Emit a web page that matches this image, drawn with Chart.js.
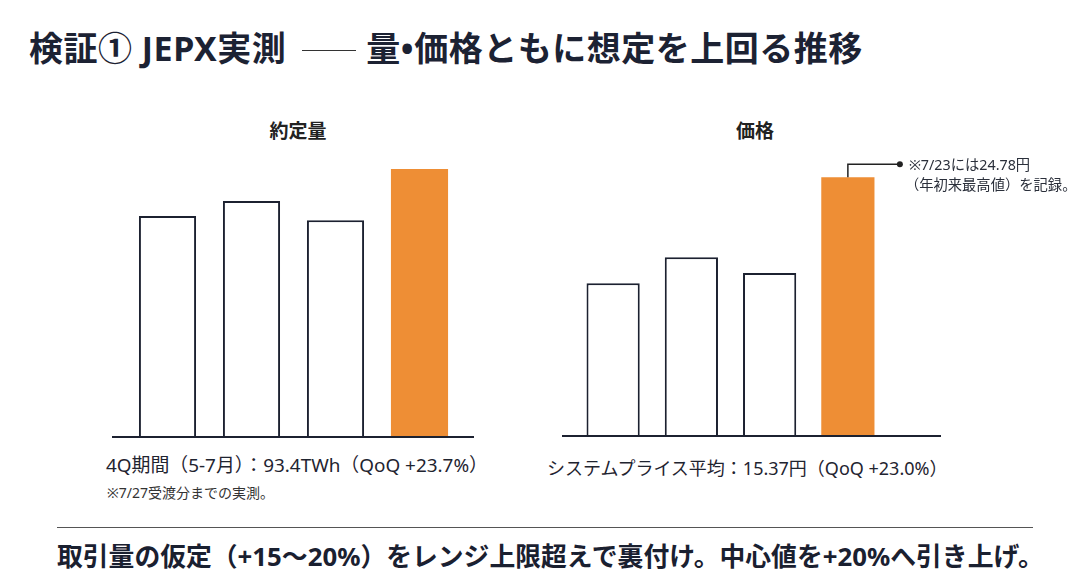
<!DOCTYPE html>
<html lang="ja">
<head>
<meta charset="utf-8">
<script src="https://cdn.jsdelivr.net/npm/chart.js@4/dist/chart.umd.min.js"></script>
<style>
  html, body { margin: 0; padding: 0; background: #fff; }
  body { width: 1090px; height: 581px; position: relative; overflow: hidden;
         font-family: "Noto Sans", "Noto Sans CJK JP", sans-serif; color: #1c2233; }
  .title { position: absolute; left: 29px; top: 26px; font-size: 34px; font-weight: 700;
           white-space: nowrap; line-height: 44px; letter-spacing: 0.5px; }
  .dash { display: inline-block; width: 54px; border-top: 1.5px solid #333; vertical-align: middle;
          margin: 0 10px 0 16px; position: relative; top: -1px; }
  .chart-title { position: absolute; font-size: 19px; font-weight: 700; transform: translateX(-50%);
                 white-space: nowrap; color: #222; }
  canvas { position: absolute; }
  .label { position: absolute; white-space: nowrap; line-height: 24px; color: #1f2430; }
  .note { position: absolute; font-size: 14px; white-space: nowrap; color: #333; }
  .rule { position: absolute; left: 57px; width: 976px; top: 527px; border-top: 1.5px solid #555; }
  .footer { position: absolute; left: 57px; top: 538px; font-size: 25.8px; font-weight: 700;
            white-space: nowrap; line-height: 36px; color: #1a2030; }
</style>
</head>
<body>
<div class="title">検証① JEPX実測<span class="dash"></span>量•価格ともに想定を上回る推移</div>

<div class="chart-title" style="left:298px; top:116px;">約定量</div>
<div class="chart-title" style="left:755px; top:116px;">価格</div>

<canvas id="volumeChart" width="390" height="310" style="left:100px; top:140px;"></canvas>
<canvas id="priceChart" width="550" height="310" style="left:540px; top:140px;"></canvas>

<div class="label" style="left:106px; top:453px; font-size:18.9px;">4Q期間（5-7月）：93.4TWh（QoQ +23.7%）</div>
<div class="note" style="left:107px; top:482px;">※7/27受渡分までの実測。</div>
<div class="label" style="left:547px; top:456px; font-size:18px;">システムプライス平均：15.37円（QoQ +23.0%）</div>

<div class="rule"></div>
<div class="footer">取引量の仮定（+15〜20%）をレンジ上限超えで裏付け。中心値を+20%へ引き上げ。</div>

<script>
// quarters (1Q..4Q), the last one is the current measured period
const quarters = ['1Q', '2Q', '3Q', '4Q'];
const volumeValues = [77.0, 82.2, 75.5, 93.4];   // TWh
const priceValues = [12.35, 13.09, 12.64, 15.37]; // 円/kWh
const priceNote = ['※7/23には24.78円', '（年初来最高値）を記録。'];

const ORANGE = '#EE8E35';
const INK = '#1c2130';

const fills = quarters.map((q, i) => i === quarters.length - 1 ? ORANGE : '#ffffff');
const borders = quarters.map((q, i) => i === quarters.length - 1 ? ORANGE : INK);
const borderWidths = quarters.map((q, i) => i === quarters.length - 1 ? 0 : 2);

// baseline drawn a little wider than the bars
const baselinePlugin = {
    id: 'baseline',
    afterDatasetsDraw(chart, args, opts) {
        const { ctx, chartArea, scales } = chart;
        const y = scales.y.getPixelForValue(scales.y.min);
        ctx.save();
        ctx.strokeStyle = INK;
        ctx.lineWidth = 2;
        ctx.beginPath();
        ctx.moveTo(chartArea.left - opts.left, y);
        ctx.lineTo(chartArea.right + opts.right, y);
        ctx.stroke();
        ctx.restore();
    }
};

// callout on the last bar of the price chart
const calloutPlugin = {
    id: 'callout',
    afterDatasetsDraw(chart, args, opts) {
        if (!opts.lines) return;
        const bar = chart.getDatasetMeta(0).data[opts.index];
        const { ctx } = chart;
        const x0 = bar.x, y0 = bar.y;
        const yLine = y0 - 13;
        const xEnd = x0 + 52;
        ctx.save();
        ctx.strokeStyle = '#222';
        ctx.fillStyle = '#222';
        ctx.lineWidth = 1.5;
        ctx.beginPath();
        ctx.moveTo(x0, y0);
        ctx.lineTo(x0, yLine);
        ctx.lineTo(xEnd, yLine);
        ctx.stroke();
        ctx.beginPath();
        ctx.arc(xEnd, yLine, 3, 0, Math.PI * 2);
        ctx.fill();
        ctx.fillStyle = '#2a2f3a';
        ctx.font = '14.3px "Noto Sans", "Noto Sans CJK JP", sans-serif';
        ctx.textBaseline = 'middle';
        ctx.fillText(opts.lines[0], xEnd + 9, yLine + 2);
        ctx.fillText(opts.lines[1], xEnd + 5, yLine + 22);
        ctx.restore();
    }
};

function makeBarChart(id, values, yMin, yMax, padding, baseline, callout) {
    const ctx = document.getElementById(id).getContext('2d');
    return new Chart(ctx, {
        type: 'bar',
        data: {
            labels: quarters,
            datasets: [{
                data: values,
                backgroundColor: fills,
                borderColor: borders,
                borderWidth: borderWidths,
                borderSkipped: 'bottom',
                categoryPercentage: 1,
                barPercentage: 0.68
            }]
        },
        options: {
            responsive: false,
            animation: false,
            layout: { padding: padding },
            scales: {
                x: { display: false },
                y: { display: false, min: yMin, max: yMax }
            },
            plugins: {
                legend: { display: false },
                tooltip: { enabled: false },
                baseline: baseline,
                callout: callout || {}
            }
        },
        plugins: [baselinePlugin, calloutPlugin]
    });
}

makeBarChart('volumeChart', volumeValues, 0, 100,
    { left: 25.5, right: 28.5, top: 10, bottom: 13 },
    { left: 13.5, right: 12.5 });

makeBarChart('priceChart', priceValues, 8, 16,
    { left: 34, right: 203, top: 15, bottom: 14 },
    { left: 12, right: 54 },
    { index: 3, lines: priceNote });
</script>
</body>
</html>
